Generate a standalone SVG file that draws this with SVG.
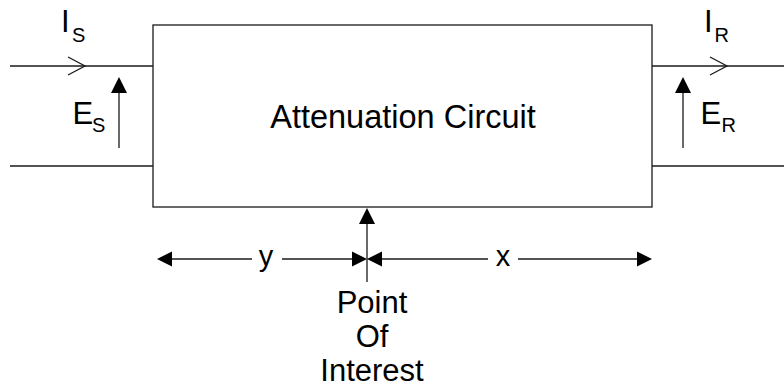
<svg xmlns="http://www.w3.org/2000/svg" width="784" height="389" viewBox="0 0 784 389">
<style>
.ln{stroke:#1a1a1a;stroke-width:1.3;fill:none}
.hd{fill:#000;stroke:none}
.t{font-family:"Liberation Sans",Arial,sans-serif;fill:#000}
.big{font-size:31px}
.title{font-size:32.5px}
.sub{font-size:20px}
.xy{font-size:29px}
</style>
<rect width="784" height="389" fill="#fff"/>
<g id="circuit">
<rect x="153" y="25" width="499" height="182" class="ln"/>
<text class="t title" x="403" y="128" text-anchor="middle">Attenuation Circuit</text>
</g>
<g id="connectors">
<line x1="10" y1="66" x2="153" y2="66" class="ln"/>
<line x1="10" y1="166" x2="153" y2="166" class="ln"/>
<line x1="652" y1="66" x2="784" y2="66" class="ln"/>
<line x1="652" y1="166" x2="784" y2="166" class="ln"/>
<polyline points="68,57 85,66 68,75" class="ln"/>
<polyline points="710,57 727,66 710,75" class="ln"/>
<line x1="119" y1="90" x2="119" y2="148" class="ln"/>
<polygon points="119,77 111,93 127,93" class="hd"/>
<line x1="683" y1="90" x2="683" y2="148" class="ln"/>
<polygon points="683,77 675,93 691,93" class="hd"/>
<line x1="367" y1="220" x2="367" y2="282" class="ln"/>
<polygon points="367,208 359,224 375,224" class="hd"/>
<line x1="170" y1="259" x2="252" y2="259" class="ln"/>
<line x1="282" y1="259" x2="354" y2="259" class="ln"/>
<line x1="380" y1="259" x2="488" y2="259" class="ln"/>
<line x1="518" y1="259" x2="638" y2="259" class="ln"/>
<polygon points="157,259 172,251.5 172,266.5" class="hd"/>
<polygon points="367,259 352,251.5 352,266.5" class="hd"/>
<polygon points="367,259 382,251.5 382,266.5" class="hd"/>
<polygon points="652,259 637,251.5 637,266.5" class="hd"/>
</g>
<g id="labels">
<text class="t big" x="61" y="32">I</text>
<text class="t sub" x="72" y="42">S</text>
<text class="t big" x="72.5" y="124">E</text>
<text class="t sub" x="92" y="132">S</text>
<text class="t big" x="704" y="32">I</text>
<text class="t sub" x="714.5" y="41.5">R</text>
<text class="t big" x="700.5" y="124">E</text>
<text class="t sub" x="721.5" y="132">R</text>
<text class="t xy" x="266" y="266" text-anchor="middle">y</text>
<text class="t xy" x="503" y="266" text-anchor="middle">x</text>
</g>
<g id="point-of-interest">
<text class="t big" x="372" y="313" text-anchor="middle">Point</text>
<text class="t big" x="372" y="347" text-anchor="middle">Of</text>
<text class="t big" x="372" y="381" text-anchor="middle">Interest</text>
</g>
</svg>
